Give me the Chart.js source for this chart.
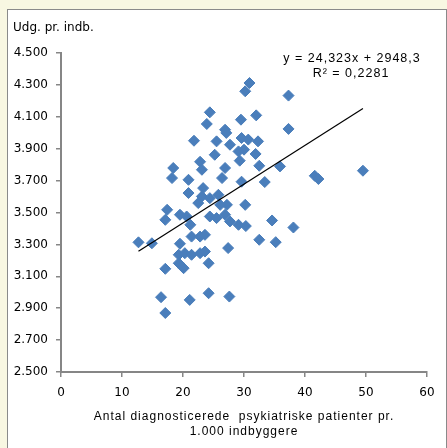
<!DOCTYPE html>
<html>
<head>
<meta charset="utf-8">
<script src="https://cdn.jsdelivr.net/npm/chart.js@4/dist/chart.umd.min.js"></script>
<style>
  html, body { margin: 0; padding: 0; background: #f8f7e2; }
  canvas { display: block; }
</style>
</head>
<body>
<canvas id="udgifter" width="447" height="448"></canvas>
<script>
// patienter pr. 1.000 indbyggere (x) og udgifter pr. indbygger (y)
var patienter = [
  30.9, 30.2, 37.3, 32.0, 29.5, 37.3, 29.6, 30.7, 32.3, 30.0,
  31.9, 29.3, 32.5, 35.9, 41.6, 42.2, 49.5, 29.6, 33.4, 30.2,
  30.3, 34.6, 38.1, 32.5, 35.2, 24.4, 23.9, 26.9, 27.1, 21.8,
  25.5, 27.7, 25.2, 29.1, 22.8, 23.1, 18.4, 18.2, 20.9, 26.9,
  26.4, 20.9, 23.3, 23.1, 22.5, 24.4, 25.8, 27.2, 26.1, 17.4,
  17.1, 19.5, 20.6, 21.2, 24.4, 25.5, 26.9, 27.7, 29.1, 21.4,
  22.8, 23.6, 12.7, 14.9, 19.5, 19.3, 20.3, 21.4, 22.8, 23.6,
  27.4, 24.2, 19.3, 20.1, 17.1, 16.4, 21.1, 24.2, 27.6, 17.1
];
var udgifter = [
  4312, 4260, 4233, 4109, 4082, 4024, 3967, 3957, 3946, 3894,
  3867, 3825, 3793, 3789, 3730, 3710, 3762, 3693, 3691, 3548,
  3415, 3450, 3406, 3329, 3314, 4128, 4055, 4019, 3999, 3950,
  3946, 3925, 3862, 3883, 3818, 3768, 3779, 3716, 3705, 3779,
  3716, 3622, 3653, 3601, 3559, 3590, 3611, 3548, 3548, 3517,
  3454, 3486, 3475, 3423, 3475, 3465, 3486, 3444, 3423, 3349,
  3349, 3360, 3313, 3307, 3304, 3235, 3245, 3235, 3245, 3255,
  3277, 3182, 3182, 3151, 3147, 2969, 2952, 2994, 2973, 2870
];
// tendenslinje, endepunkter aflæst
var trendX = [12.7, 49.5];
var trendY = [3257, 4152];

var yTickLabels = ['2.500', '2.700', '2.900', '3.100', '3.300', '3.500', '3.700', '3.900', '4.100', '4.300', '4.500'];
var xTickLabels = ['0', '10', '20', '30', '40', '50', '60'];
var yTitel = 'Udg. pr. indb.';
var xTitel = ['Antal diagnosticerede  psykiatriske patienter pr.', '1.000 indbyggere'];
var ligning = 'y = 24,323x + 2948,3';
var rKvadrat = 'R\u00B2 = 0,2281';

var punkter = [];
for (var i in patienter) {
  punkter.push({x: patienter[i], y: udgifter[i]});
}
var trend = [];
for (var j in trendX) {
  trend.push({x: trendX[j], y: trendY[j]});
}

var ramme = {
  id: 'ramme',
  beforeDraw: function(chart) {
    var c = chart.ctx;
    c.save();
    c.fillStyle = '#f8f7e2';
    c.fillRect(0, 0, chart.width, chart.height);
    c.fillStyle = '#ffffff';
    c.fillRect(7.5, 9.5, 439, 500);
    c.strokeStyle = '#8a8a8a';
    c.lineWidth = 1;
    c.strokeRect(7.5, 9.5, 439, 500);
    c.restore();
  },
  afterDraw: function(chart) {
    var c = chart.ctx;
    var xs = chart.scales.x;
    c.save();
    c.fillStyle = '#000000';
    c.textBaseline = 'middle';
    c.font = '12px "DejaVu Sans"';
    c.textAlign = 'left';
    c.fillText(yTitel, 13, 28);
    c.letterSpacing = '1px';
    c.textAlign = 'center';
    c.font = '12.5px "Liberation Sans"';
    c.fillText(ligning, 352, 59);
    c.fillText(rKvadrat, 351, 74);
    c.font = '12px "Liberation Sans"';
    var midt = (xs.left + xs.right) / 2;
    c.fillText(xTitel[0], midt, 417);
    c.fillText(xTitel[1], midt, 432);
    c.restore();
  }
};

var ctx = document.getElementById('udgifter');

var graf = new Chart(ctx, {
  type: 'scatter',
  data: {
    datasets: [
      {
        type: 'line',
        data: trend,
        borderColor: '#000000',
        borderWidth: 1.2,
        pointRadius: 0,
        fill: false,
        showLine: true
      },
      {
        data: punkter,
        pointStyle: 'rectRot',
        pointRadius: 5.5,
        pointBorderWidth: 1,
        pointBackgroundColor: '#4a7ebb',
        pointBorderColor: '#4a7ebb'
      }
    ]
  },
  options: {
    responsive: false,
    animation: false,
    layout: { padding: { left: 0, top: 53, right: 20, bottom: 0 } },
    plugins: { legend: { display: false }, tooltip: { enabled: false } },
    scales: {
      x: {
        type: 'linear',
        min: 0, max: 60,
        afterFit: function(s) { s.height = 76; },
        ticks: {
          stepSize: 10,
          padding: 9,
          color: '#000000',
          font: { family: "'DejaVu Sans', Verdana, sans-serif", size: 12 },
          callback: function(v, i) { return xTickLabels[i]; }
        },
        grid: { drawOnChartArea: false, drawTicks: true, tickLength: 5, color: '#868686', lineWidth: 1.5 },
        border: { display: true, color: '#868686', width: 2 }
      },
      y: {
        min: 2500, max: 4500,
        afterFit: function(s) { s.width = 61; },
        ticks: {
          stepSize: 200,
          padding: 8,
          color: '#000000',
          font: { family: "'DejaVu Sans', Verdana, sans-serif", size: 12 },
          callback: function(v, i) { return yTickLabels[i]; }
        },
        grid: { drawOnChartArea: false, drawTicks: true, tickLength: 5, color: '#868686', lineWidth: 1.5 },
        border: { display: true, color: '#868686', width: 2 }
      }
    }
  },
  plugins: [ramme]
});
</script>
</body>
</html>
